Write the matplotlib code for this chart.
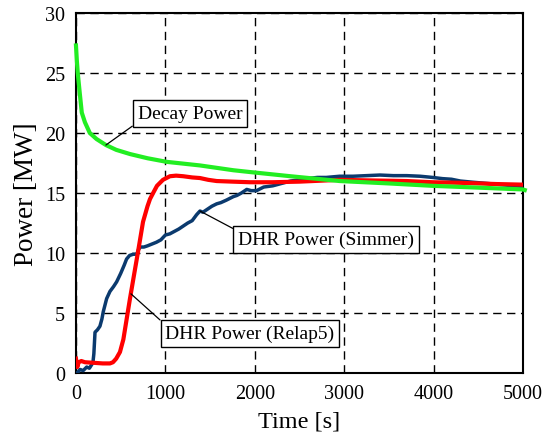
import matplotlib
matplotlib.use('Agg')
import matplotlib.pyplot as plt

# Decay power
t_decay = [0, 10, 20, 40, 65, 100, 155, 230, 335, 450, 604, 800, 1014, 1387, 1760,
           1946, 2400, 2950, 3500, 3990, 4500, 5000, 5020]
p_decay = [27.3, 26.0, 25.0, 23.5, 21.7, 20.9, 20.0, 19.5, 19.0, 18.6, 18.25, 17.9, 17.6,
           17.3, 16.9, 16.75, 16.4, 16.0, 15.8, 15.6, 15.45, 15.3, 15.25]

# DHR power (Relap5)
t_relap = [0, 15, 30, 60, 100, 200, 300, 380, 414, 450, 492, 530, 567, 604, 650, 694,
           750, 800, 828, 870, 906, 973, 1051, 1120, 1200, 1300, 1387, 1480, 1574, 1750,
           1946, 2200, 2500, 2800, 2950, 3300, 3700, 3990, 4300, 4700, 5000]
p_relap = [1.2, 0.5, 0.9, 1.0, 0.9, 0.85, 0.8, 0.8, 0.9, 1.2, 1.75, 2.8, 4.5, 6.2, 8.2,
           10.1, 12.6, 13.9, 14.5, 15.1, 15.6, 16.1, 16.4, 16.45, 16.4, 16.3, 16.25, 16.1,
           16.0, 15.95, 15.9, 15.9, 15.95, 16.05, 16.1, 16.05, 16.0, 15.9, 15.85, 15.75, 15.7]

# DHR power (Simmer)
t_simmer = [0, 20, 45, 80, 120, 150, 180, 190, 200, 213, 240, 268, 290, 305, 343, 380,
            420, 455, 500, 540, 566, 600, 640, 680, 700, 720, 760, 800, 850, 900, 950,
            1000, 1050, 1100, 1150, 1200, 1250, 1300, 1350, 1387, 1420, 1480, 1520, 1574,
            1620, 1680, 1760, 1800, 1850, 1910, 1960, 2020, 2100, 2200, 2300, 2400, 2500,
            2580, 2700, 2800, 2950, 3100, 3250, 3400, 3550, 3700, 3850, 3990, 4100, 4200,
            4300, 4440, 4600, 4750, 4900, 5000]
p_simmer = [0, 0.05, 0.3, 0.2, 0.5, 0.4, 0.75, 0.9, 1.6, 3.4, 3.6, 3.9, 4.5, 5.1, 6.2,
            6.8, 7.2, 7.6, 8.3, 9.0, 9.5, 9.8, 9.9, 9.9, 10.3, 10.5, 10.5, 10.6, 10.75,
            10.9, 11.1, 11.5, 11.6, 11.8, 12.0, 12.25, 12.5, 12.7, 13.2, 13.5, 13.4, 13.7,
            13.9, 14.1, 14.2, 14.4, 14.7, 14.8, 15.0, 15.3, 15.2, 15.2, 15.5, 15.6, 15.8,
            16.0, 16.1, 16.2, 16.3, 16.3, 16.4, 16.4, 16.45, 16.5, 16.45, 16.45, 16.4,
            16.3, 16.2, 16.15, 16.0, 15.9, 15.8, 15.7, 15.6, 15.55]

plt.rcParams['font.family'] = ['Liberation Serif', 'DejaVu Serif']

fig = plt.figure(figsize=(5.45, 4.39), dpi=100)
ax = fig.add_axes([0.1394, 0.148, 0.8202, 0.820])

ax.plot(t_simmer, p_simmer, color='#0b3a6e', lw=2.5, zorder=3)
ax.plot(t_relap, p_relap, color='#ff0000', lw=3, zorder=4)
ax.plot(t_decay, p_decay, color='#22ee22', lw=3, zorder=5, clip_on=False)

ax.set_xlim(0, 5000)
ax.set_ylim(0, 30)
ax.set_xticks(range(0, 5001, 1000))
ax.set_yticks(range(0, 31, 5))
ax.tick_params(length=0, labelsize=14.5, pad=8)
ax.grid(True, color='black', linestyle=(0, (6, 4)), lw=1)
for s in ax.spines.values():
    s.set_linewidth(1.5)

ax.set_xlabel('Time [s]', fontsize=17.5, labelpad=5)
ax.set_ylabel('Power [MW]', fontsize=19.5, labelpad=4)

box = dict(boxstyle='square,pad=0.25', fc='white', ec='black', lw=1)
ax.annotate('Decay Power', xy=(335, 19.0), xytext=(1275, 21.6), fontsize=14,
            ha='center', va='center', bbox=box, zorder=6,
            arrowprops=dict(arrowstyle='-', color='black', lw=0.9, relpos=(0, 0),
                            shrinkA=0, shrinkB=0))
ax.annotate('DHR Power (Simmer)', xy=(1387, 13.5), xytext=(2797, 11.1), fontsize=14,
            ha='center', va='center', bbox=box, zorder=6,
            arrowprops=dict(arrowstyle='-', color='black', lw=0.9, relpos=(0, 1),
                            shrinkA=0, shrinkB=0))
ax.annotate('DHR Power (Relap5)', xy=(615, 6.6), xytext=(1946, 3.3), fontsize=14,
            ha='center', va='center', bbox=box, zorder=6,
            arrowprops=dict(arrowstyle='-', color='black', lw=0.9, relpos=(0, 1),
                            shrinkA=0, shrinkB=0))

fig.savefig('out.png', dpi=100)
